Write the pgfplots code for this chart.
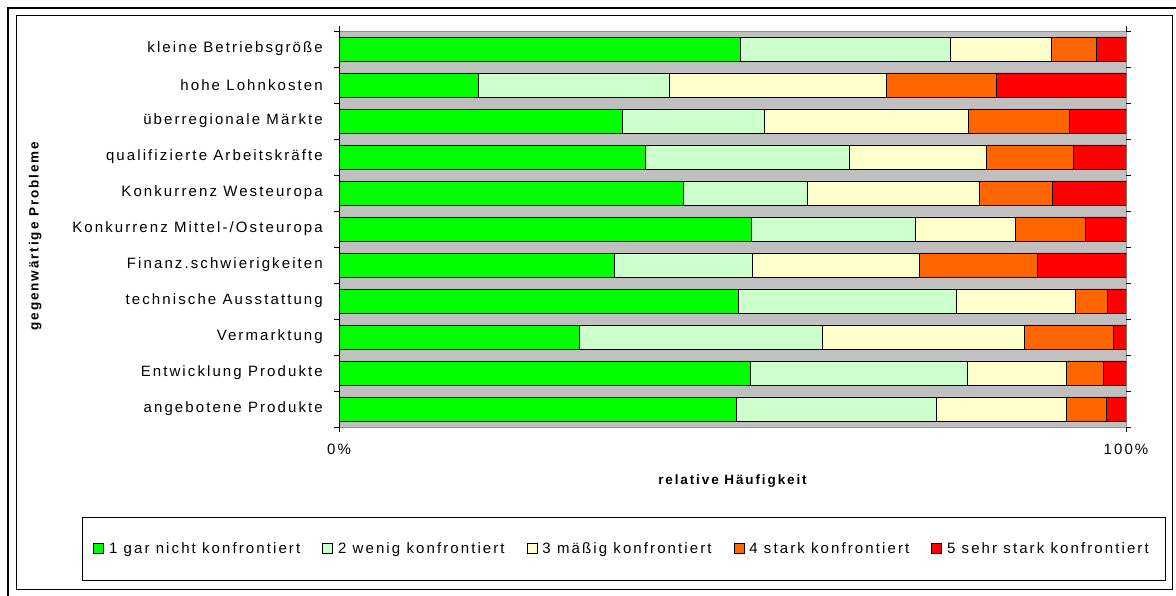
\documentclass[border=0pt]{standalone}
\usepackage{pgfplots}
\usepackage{pgfplotstable}
\pgfplotsset{compat=1.18}
\usepackage{fontspec}
\setmainfont{Liberation Sans}[LetterSpace=14]

\definecolor{c1}{HTML}{00FF00}
\definecolor{c2}{HTML}{CCFFCC}
\definecolor{c3}{HTML}{FFFFCC}
\definecolor{c4}{HTML}{FF6600}
\definecolor{c5}{HTML}{FF0000}
\definecolor{plotbg}{HTML}{C0C0C0}
\definecolor{plotedge}{HTML}{909090}

% relative Haeufigkeit in %, y=10 is the top row
\pgfplotstableread{
y  g1   g2   g3   g4   g5
10 51.0 26.7 12.8 5.8  3.7
9  17.7 24.3 27.5 14.0 16.5
8  36.0 18.1 25.9 12.8 7.2
7  38.9 25.9 17.5 11.0 6.7
6  43.7 15.8 21.9 9.2  9.4
5  52.4 20.8 12.8 8.9  5.1
4  35.0 17.5 21.3 14.9 11.3
3  50.8 27.6 15.2 4.0  2.4
2  30.6 30.8 25.7 11.3 1.6
1  52.3 27.5 12.6 4.7  2.9
0  50.5 25.4 16.5 5.1  2.5
}\datatable

\begin{document}
\begin{tikzpicture}[x=1pt,y=1pt]
\useasboundingbox (0,0) rectangle (1176,596);
% frame
\draw[line width=2.5pt] (8,0) -- (8,588) -- (1176,588);
\draw[line width=1pt] (16,6) rectangle (1172,580);
% legend box
\draw[line width=0.8pt] (82,16) rectangle (1165,79);

\begin{axis}[
  at={(339pt,169pt)}, anchor=south west,
  scale only axis,
  width=787pt, height=396pt,
  xbar stacked,
  bar width=24pt,
  xmin=0, xmax=100,
  ymin=-0.5, ymax=10.5,
  axis background/.style={fill=plotbg},
  axis line style={draw=plotedge, line width=0.8pt},
  major tick length=0pt,
  tick align=outside,
  xtick={0,100},
  xticklabels={0\%,100\%},
  ytick={0,...,10},
  yticklabels={angebotene Produkte, Entwicklung Produkte, Vermarktung,
    technische Ausstattung, Finanz.schwierigkeiten, Konkurrenz Mittel-/Osteuropa,
    Konkurrenz Westeuropa, qualifizierte Arbeitskräfte, überregionale Märkte,
    hohe Lohnkosten, kleine Betriebsgröße},
  extra x ticks={0,100},
  extra x tick labels={},
  extra y ticks={-0.5,0.5,...,10.5},
  extra y tick labels={},
  extra x tick style={major tick length=5pt, tick style={draw=black, line width=0.8pt}},
  extra y tick style={major tick length=5pt, tick style={draw=black, line width=0.8pt}},
  /pgf/number format/assume math mode=true,
  tick label style={font=\fontsize{15}{18}\selectfont},
  yticklabel style={inner xsep=0pt, xshift=-16pt},
  xticklabel style={inner ysep=0pt, yshift=-17pt},
  xlabel={relative Häufigkeit},
  ylabel={gegenwärtige Probleme},
  label style={font=\bfseries\fontsize{13.5}{16}\selectfont},
  xlabel style={at={(axis description cs:0.5,-0.137)}, anchor=center},
  ylabel style={at={(axis description cs:-0.386,0.482)}, anchor=center, rotate=0},
  legend columns=5,
  legend style={at={(axis description cs:0.3596,-0.3068)}, anchor=center,
    draw=none, fill=none, font=\fontsize{15}{18}\selectfont,
    /tikz/every even column/.append style={column sep=20pt},
    /tikz/every odd column/.append style={column sep=3pt}},
  legend image code/.code={\draw[#1, line width=0.8pt] (0pt,-5pt) rectangle (10pt,5pt);},
  every axis plot/.append style={draw=black, line width=0.8pt},
]
\addplot[fill=c1] table[x=g1, y=y] {\datatable};
\addplot[fill=c2] table[x=g2, y=y] {\datatable};
\addplot[fill=c3] table[x=g3, y=y] {\datatable};
\addplot[fill=c4] table[x=g4, y=y] {\datatable};
\addplot[fill=c5] table[x=g5, y=y] {\datatable};
\legend{1 gar nicht konfrontiert, 2 wenig konfrontiert, 3 mäßig konfrontiert,
  4 stark konfrontiert, 5 sehr stark konfrontiert}
\draw[black, line width=0.8pt] (rel axis cs:0,0) -- (rel axis cs:0,1);
\end{axis}
\end{tikzpicture}
\end{document}
